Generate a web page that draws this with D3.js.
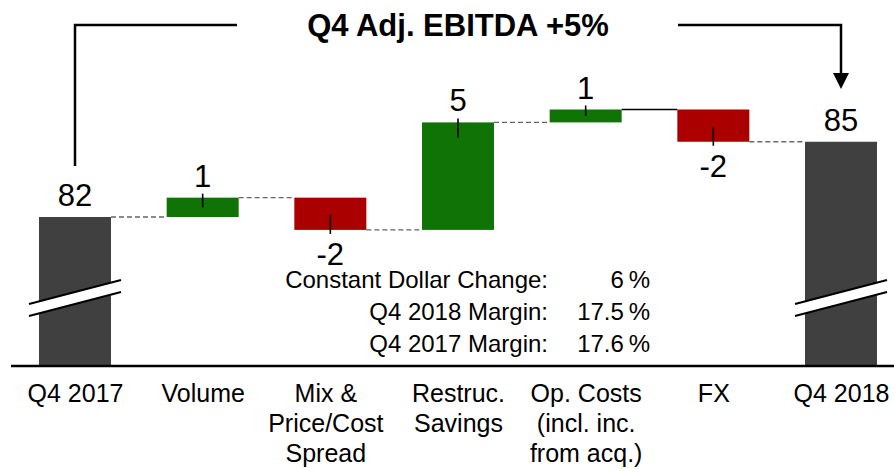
<!DOCTYPE html>
<html>
<head>
<meta charset="utf-8">
<script src="https://cdn.jsdelivr.net/npm/d3@7"></script>
<style>
  body { margin: 0; background: #fff; }
  svg text { font-family: "Liberation Sans", Arial, sans-serif; fill: #000; }
</style>
</head>
<body>
<div id="chartContainer"></div>
<script>
// categories (multi-line labels split with |)
var categories = ["Q4 2017", "Volume", "Mix &|Price/Cost|Spread", "Restruc.|Savings",
  "Op. Costs|(incl. inc.|from acq.)", "FX", "Q4 2018"];
// bar kind: total / delta
var kinds = ["total", "delta", "delta", "delta", "delta", "delta", "total"];
// underlying values
var startValue = 82.0;
var deltas = [0.9, -1.5, 5.0, 0.6, -1.5];
// printed labels
var valueLabels = ["82", "1", "-2", "5", "1", "-2", "85"];
var title = "Q4 Adj. EBITDA +5%";
var infoLabels = ["Constant Dollar Change:", "Q4 2018 Margin:", "Q4 2017 Margin:"];
var infoValues = ["6\u2009%", "17.5\u2009%", "17.6\u2009%"];

var WIDTH = 894, HEIGHT = 471, BASE = 366, BAR_W = 72;

// build waterfall rows
var rows = [], running = startValue;
categories.forEach(function (c, i) {
  if (kinds[i] === "total") {
    var v = i === 0 ? startValue : running;
    rows.push({ cat: c, kind: "total", v0: null, v1: v, label: valueLabels[i] });
  } else {
    var d = deltas[i - 1];
    rows.push({ cat: c, kind: "delta", v0: running, v1: running + d, d: d, label: valueLabels[i] });
    running += d;
  }
});

var svg = d3.select("#chartContainer").append("svg")
  .attr("width", WIDTH)
  .attr("height", HEIGHT);

var x = d3.scalePoint().domain(categories).range([75, 841]);
var y = d3.scaleLinear().domain([82, 87]).range([217, 109.5]);

function barTop(r) { return r.kind === "total" ? y(r.v1) : y(Math.max(r.v0, r.v1)); }
function barBottom(r) { return r.kind === "total" ? BASE : y(Math.min(r.v0, r.v1)); }
function barColor(r) { return r.kind === "total" ? "#404040" : (r.d >= 0 ? "#0f7405" : "#ab0000"); }

// connectors
for (var i = 0; i < rows.length - 1; i++) {
  var lvl = rows[i].v1;
  svg.append("line")
    .attr("x1", x(rows[i].cat) + BAR_W / 2)
    .attr("x2", x(rows[i + 1].cat) - BAR_W / 2)
    .attr("y1", y(lvl)).attr("y2", y(lvl))
    .attr("stroke", i === 4 ? "#000" : "#666")
    .attr("stroke-width", 1.3)
    .attr("stroke-dasharray", i === 4 ? null : "5,3");
}

// bars
svg.selectAll("rect.bar").data(rows).enter().append("rect")
  .attr("class", "bar")
  .attr("x", function (d) { return x(d.cat) - BAR_W / 2; })
  .attr("y", barTop)
  .attr("width", BAR_W)
  .attr("height", function (d) { return barBottom(d) - barTop(d); })
  .attr("fill", barColor);

// axis break marks on totals
rows.filter(function (d) { return d.kind === "total"; }).forEach(function (d) {
  var cx = x(d.cat), l = cx - 46, r = cx + 46;
  svg.append("polygon")
    .attr("points", [[l, 304], [r, 280], [r, 292], [l, 316]].join(" "))
    .attr("fill", "#fff");
  svg.append("line").attr("x1", l).attr("y1", 304).attr("x2", r).attr("y2", 280)
    .attr("stroke", "#000").attr("stroke-width", 2);
  svg.append("line").attr("x1", l).attr("y1", 316).attr("x2", r).attr("y2", 292)
    .attr("stroke", "#000").attr("stroke-width", 2);
});

// small ticks on delta bars
rows.filter(function (d) { return d.kind === "delta"; }).forEach(function (d) {
  var h = barBottom(d) - barTop(d), inner = Math.min(15, h / 2), cx = x(d.cat);
  var y1, y2;
  if (d.d >= 0) { y1 = barTop(d) - 4; y2 = barTop(d) + inner; }
  else { y1 = barBottom(d) + 4; y2 = barBottom(d) - inner; }
  svg.append("line").attr("x1", cx).attr("x2", cx).attr("y1", y1).attr("y2", y2)
    .attr("stroke", "#000").attr("stroke-width", 1.6);
});

// value labels
svg.selectAll("text.val").data(rows).enter().append("text")
  .attr("class", "val")
  .attr("x", function (d) { return x(d.cat); })
  .attr("y", function (d) {
    if (d.kind === "delta" && d.d < 0) return barBottom(d) + 35;
    return barTop(d) - 11;
  })
  .attr("text-anchor", "middle")
  .style("font-size", "31px")
  .text(function (d) { return d.label; });

// baseline
svg.append("line").attr("x1", 11).attr("x2", WIDTH).attr("y1", BASE).attr("y2", BASE)
  .attr("stroke", "#000").attr("stroke-width", 2.5);

// category axis
var xAxis = d3.axisBottom(x).tickSize(0).tickFormat("");
var gx = svg.append("g")
  .attr("class", "x axis")
  .attr("transform", "translate(0," + BASE + ")")
  .call(xAxis);
gx.select(".domain").remove();
gx.selectAll(".tick").each(function (c) {
  var t = d3.select(this).select("text")
    .attr("y", 36).attr("dy", null)
    .style("font-size", "25px")
    .style("font-family", "Liberation Sans, Arial, sans-serif")
    .attr("fill", "#000");
  c.split("|").forEach(function (line, k) {
    t.append("tspan").attr("x", c === "Mix &|Price/Cost|Spread" ? -5 : 0)
      .attr("dy", k === 0 ? 0 : 30).text(line);
  });
});

// title and bracket
svg.append("text")
  .attr("x", 458).attr("y", 36)
  .attr("text-anchor", "middle")
  .style("font-size", "31px")
  .style("font-weight", "bold")
  .text(title);

svg.append("path")
  .attr("d", "M" + x(categories[0]) + ",166 V25 H237")
  .attr("fill", "none").attr("stroke", "#000").attr("stroke-width", 2.5);
var xe = x(categories[categories.length - 1]);
svg.append("path")
  .attr("d", "M678,25 H" + xe + " V74")
  .attr("fill", "none").attr("stroke", "#000").attr("stroke-width", 2.5);
svg.append("polygon")
  .attr("points", [[xe - 8, 73], [xe + 8, 73], [xe, 89]].join(" "))
  .attr("fill", "#000");

// info block
var info = svg.append("g");
infoLabels.forEach(function (t, i) {
  info.append("text").attr("x", 548).attr("y", 288 + i * 32)
    .attr("text-anchor", "end").style("font-size", "24px").text(t);
  info.append("text").attr("x", 650).attr("y", 288 + i * 32)
    .attr("text-anchor", "end").style("font-size", "24px").text(infoValues[i]);
});
</script>
</body>
</html>
